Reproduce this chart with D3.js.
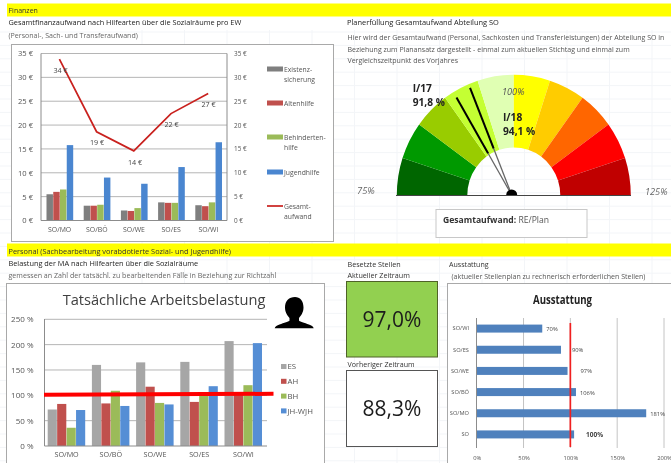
<!DOCTYPE html>
<html><head><meta charset="utf-8">
<script src="https://cdn.jsdelivr.net/npm/d3@7"></script>
<style>
html,body{margin:0;padding:0;background:#fff}
svg{display:block;filter:blur(0.45px)}
text{font-family:"Open Sans","Noto Sans",sans-serif}
</style></head><body>
<svg id="c" width="671" height="463"></svg>
<script>
// --- Data: chart 1 (Gesamtfinanzaufwand)
const raeume = ["SO/MO","SO/BÖ","SO/WE","SO/ES","SO/WI"];
const existenz = [5.5,3.1,2.1,3.8,3.2];
const altenhilfe = [6.0,3.1,2.0,3.7,3.0];
const behinderten = [6.5,3.3,2.6,3.7,3.8];
const jugendhilfe = [15.8,9.0,7.7,11.2,16.4];
const gesamt = [33.8,18.6,14.6,22.4,26.6];
const gesamtLabels = ["34 €","19 €","14 €","22 €","27 €"];
// --- Data: gauge
const gaugeStops = [75,80,85,90,95,100,105,110,115,120,125];
const gaugeNeedles = [91.8,94.1];
// --- Data: chart 3 (Arbeitsbelastung)
const es = [72,160,165,166,207];
const ah = [83,84,117,87,104];
const bh = [36,109,85,100,120];
const jh = [71,79,82,118,203];
const richtzahl = [101,103];
// --- Data: Ausstattung
const ausstattungCats = ["SO/WI","SO/ES","SO/WE","SO/BÖ","SO/MO","SO"];
const ausstattung = [70,90,97,106,181,104];
const ausstattungLabels = ["70%","90%","97%","106%","181%","100%"];
const besetztAktuell = "97,0%";
const besetztVorher = "88,3%";

const svg = d3.select("#c");
const TXT="#3a3a3a", AX="#8c8c8c", GR="#b5b5b5";

function text(g,x,y,s,o={}){
  return g.append("text").attr("x",x).attr("y",y).text(s)
   .attr("font-size",o.size||8).attr("fill",o.fill||TXT)
   .attr("font-weight",o.weight||null).attr("font-style",o.style||null)
   .attr("text-anchor",o.anchor||null).attr("font-family",o.family||null);
}
function band(x,y,w,h){svg.append("rect").attr("x",x).attr("y",y).attr("width",w).attr("height",h).attr("fill","#ffff00");}
function panel(x,y,w,h,st){svg.append("rect").attr("x",x+.5).attr("y",y+.5).attr("width",w).attr("height",h).attr("fill","#fff").attr("stroke",st||"#a9a9a9");}
function clean(g,size){g.select(".domain").remove();g.selectAll("line").remove();g.selectAll("text").attr("fill","#555").attr("font-size",size).attr("font-family",'"Open Sans",sans-serif');}

// Faint sheet gridlines
const sheetH=d3.range(32,463,13.4), sheetV=d3.range(142,671,42.5);
svg.append("g").selectAll("line").data(sheetH).join("line").attr("x1",0).attr("x2",671).attr("y1",d=>d).attr("y2",d=>d).attr("stroke","#f3f5f8");
svg.append("g").selectAll("line").data(sheetV).join("line").attr("x1",d=>d).attr("x2",d=>d).attr("y1",30).attr("y2",463).attr("stroke","#f3f5f8");

band(7,3.5,664,13); band(7,243.5,664,13);
text(svg,8.5,13,"Finanzen",{size:7,fill:"#333"});
text(svg,8.5,254,"Personal (Sachbearbeitung vorabdotierte Sozial- und Jugendhilfe)",{size:7.35,fill:"#333"});
text(svg,8.5,25,"Gesamtfinanzaufwand nach Hilfearten über die Sozialräume pro EW",{size:7.35,fill:"#222"});
text(svg,8.5,37.5,"(Personal-, Sach- und Transferaufwand)",{size:7.05,fill:"#666"});
text(svg,347,25,"Planerfüllung Gesamtaufwand Abteilung SO",{size:7.45,fill:"#222"});
["Hier wird der Gesamtaufwand (Personal, Sachkosten und Transferleistungen) der Abteilung SO in",
 "Beziehung zum Planansatz dargestellt - einmal zum aktuellen Stichtag und einmal zum",
 "Vergleichszeitpunkt des Vorjahres"].forEach((s,i)=>text(svg,347.5,40+i*11.5,s,{size:7.03,fill:"#555"}));
text(svg,8.5,266,"Belastung der MA nach Hilfearten über die Sozialräume",{size:7.35,fill:"#222"});
text(svg,8.5,278,"gemessen an Zahl der tatsächl. zu bearbeitenden Fälle in Beziehung zur Richtzahl",{size:7.1,fill:"#666"});
text(svg,347.5,267,"Besetzte Stellen",{size:7.2,fill:"#333"});
text(svg,347.5,278,"Aktueller Zeitraum",{size:7.2,fill:"#333"});
text(svg,347.5,367,"Vorheriger Zeitraum",{size:7.1,fill:"#333"});
text(svg,449,267,"Ausstattung",{size:7.1,fill:"#333"});
text(svg,451.5,279,"(aktueller Stellenplan zu rechnerisch erforderlichen Stellen)",{size:7.05,fill:"#555"});

// ---------- Chart 1
panel(11,44,322,197);
{
 const x=d3.scaleBand().domain(raeume).range([41,227]);
 const y=d3.scaleLinear().domain([0,35]).range([220.5,53.5]);
 const ticks=[0,5,10,15,20,25,30,35];
 const g=svg.append("g");
 g.selectAll(".gl").data(ticks).join("line").attr("x1",41).attr("x2",227).attr("y1",y).attr("y2",y).attr("stroke",GR).attr("stroke-width",1);
 const series=[[existenz,"#7f7f7f"],[altenhilfe,"#c0504d"],[behinderten,"#9bbb59"],[jugendhilfe,"#4a86d0"]];
 const inner=d3.scaleBand().domain(d3.range(4)).range([5.5,32.5]).paddingInner(0);
 series.forEach(([vals,col],k)=>{
  g.selectAll(null).data(vals).join("rect")
   .attr("x",(d,i)=>x(raeume[i])+inner(k)).attr("width",inner.bandwidth()-.3)
   .attr("y",d=>y(d)).attr("height",d=>y(0)-y(d)).attr("fill",col);
 });
 g.append("line").attr("x1",41).attr("x2",41).attr("y1",53.5).attr("y2",220.5).attr("stroke",AX);
 g.append("line").attr("x1",227).attr("x2",227).attr("y1",53.5).attr("y2",220.5).attr("stroke",AX);
 g.append("line").attr("x1",41).attr("x2",227).attr("y1",220.5).attr("y2",220.5).attr("stroke",AX);
 g.append("g").attr("transform","translate(36,0)").call(d3.axisLeft(y).tickValues(ticks).tickFormat(d=>d+" €").tickSize(0)).call(s=>clean(s,7.6));
 g.append("g").attr("transform","translate(231,0)").call(d3.axisRight(y).tickValues(ticks).tickFormat(d=>d+" €").tickSize(0)).call(s=>{clean(s,6.4);});
 g.append("g").attr("transform","translate(0,224)").call(d3.axisBottom(x).tickSize(0)).call(s=>clean(s,6.9));
 const line=d3.line().x((d,i)=>x(raeume[i])+x.bandwidth()/2-.2).y(d=>y(d));
 g.append("path").attr("d",line(gesamt)).attr("fill","none").attr("stroke","#c9211e").attr("stroke-width",1.7);
 const lblY=[72.5,145,165,127,107];
 const lblX=[60.5,97,135,171.5,208.5];
 g.selectAll(null).data(gesamtLabels).join("text").text(d=>d)
  .attr("x",(d,i)=>lblX[i])
  .attr("y",(d,i)=>lblY[i]).attr("text-anchor","middle").attr("font-size",7.2).attr("fill","#444");
 const lg=[["rect","#7f7f7f",["Existenz-","sicherung"],69],["rect","#c0504d",["Altenhilfe"],103],["rect","#9bbb59",["Behinderten-","hilfe"],137],["rect","#4a86d0",["Jugendhilfe"],172],["line","#c9211e",["Gesamt-","aufwand"],206]];
 lg.forEach(([t,c,ls,yy])=>{
  if(t=="rect") g.append("rect").attr("x",267).attr("y",yy-2.5).attr("width",16).attr("height",5).attr("fill",c);
  else g.append("line").attr("x1",267).attr("x2",283).attr("y1",yy).attr("y2",yy).attr("stroke",c).attr("stroke-width",1.7);
  ls.forEach((l,i)=>text(g,284,yy+2.5+i*10,l,{size:6.8,fill:"#555"}));
 });
}

// ---------- Gauge
{
 const g=svg.append("g").attr("transform","translate(513.8,195.3) scale(1,1.03)");
 const a=d3.scaleLinear().domain([75,125]).range([-Math.PI/2,Math.PI/2]);
 const cols=["#006600","#009900","#99cc00","#c4ff33","#e0ffb3","#ffff00","#ffcc00","#ff6600","#ff0000","#c00000"];
 const arc=d3.arc().innerRadius(46.5).outerRadius(117);
 g.selectAll("path").data(d3.pairs(gaugeStops)).join("path")
  .attr("d",d=>arc({startAngle:a(d[0]),endAngle:a(d[1])})).attr("fill",(d,i)=>cols[i]);
 const hub=svg.append("g").attr("transform","translate(511.7,195)");
 gaugeNeedles.forEach(v=>{
  const t=a(v), sx=Math.sin(t), cy=-Math.cos(t);
  hub.append("line").attr("x1",0).attr("y1",0).attr("x2",sx*60).attr("y2",cy*60).attr("stroke","#666").attr("stroke-width",1.3);
  hub.append("line").attr("x1",sx*(v<93?48:50)).attr("y1",cy*(v<93?48:50)).attr("x2",sx*(v<93?112:115)).attr("y2",cy*(v<93?112:115)).attr("stroke","#000").attr("stroke-width",2);
 });
 svg.append("line").attr("x1",396).attr("x2",631).attr("y1",195.5).attr("y2",195.5).attr("stroke","#444").attr("stroke-width",1.2);
 hub.append("path").attr("d",d3.arc()({innerRadius:0,outerRadius:5.5,startAngle:-Math.PI/2,endAngle:Math.PI/2})).attr("fill","#000");
 text(svg,412.7,92,"I/17",{size:10.2,weight:"bold",fill:"#222"});
 text(svg,412.7,105.5,"91,8 %",{size:10.2,weight:"bold",fill:"#222"});
 text(svg,503,121,"I/18",{size:10.2,weight:"bold",fill:"#222"});
 text(svg,503,134.5,"94,1 %",{size:10.2,weight:"bold",fill:"#222"});
 text(svg,502,94.5,"100%",{size:9.2,style:"italic",fill:"#555"});
 text(svg,357,194,"75%",{size:9.4,style:"italic",fill:"#666"});
 text(svg,645,194.5,"125%",{size:9.2,style:"italic",fill:"#666"});
 svg.append("rect").attr("x",436).attr("y",209.5).attr("width",151).attr("height",28).attr("fill","#fff").attr("stroke","#c8c8c8");
 const t=text(svg,443,222.7,"Gesamtaufwand",{size:8.6,weight:"bold",fill:"#333"});
 t.append("tspan").text(": ").attr("font-weight","bold");
 t.append("tspan").text("RE/Plan").attr("font-weight","normal").attr("fill","#555");
}

// ---------- Chart 3
panel(6,283,318,190);
{
 const x=d3.scaleBand().domain(raeume).range([44.5,265.5]);
 const y=d3.scaleLinear().domain([0,250]).range([446,319.3]);
 const ticks=[0,50,100,150,200,250];
 const g=svg.append("g");
 text(g,164,304.5,"Tatsächliche Arbeitsbelastung",{size:14.6,anchor:"middle",fill:"#404040",family:"Lato"});
 g.selectAll(".gl").data(ticks.slice(1)).join("line").attr("x1",44.5).attr("x2",267).attr("y1",y).attr("y2",y).attr("stroke",GR);
 const inner=d3.scaleBand().domain(d3.range(4)).range([3.2,41]);
 [[es,"#a6a6a6"],[ah,"#c0504d"],[bh,"#9bbb59"],[jh,"#558ed5"]].forEach(([vals,col],k)=>{
  g.selectAll(null).data(vals).join("rect")
   .attr("x",(d,i)=>x(raeume[i])+inner(k)).attr("width",inner.bandwidth()-.3)
   .attr("y",d=>y(d)).attr("height",d=>y(0)-y(d)).attr("fill",col);
 });
 g.append("line").attr("x1",44.5).attr("x2",44.5).attr("y1",319).attr("y2",446).attr("stroke",AX);
 g.append("line").attr("x1",44.5).attr("x2",267).attr("y1",446).attr("y2",446).attr("stroke",AX);
 g.append("g").attr("transform","translate(36.5,0)").call(d3.axisLeft(y).tickValues(ticks).tickFormat(d=>d+" %").tickSize(0)).call(s=>clean(s,8));
 g.append("g").attr("transform","translate(0,449)").call(d3.axisBottom(x).tickSize(0)).call(s=>clean(s,7.2));
 const rx=d3.scaleLinear().domain([0,1]).range([44,273.5]);
 g.append("line").attr("x1",rx(0)).attr("x2",rx(1)).attr("y1",y(richtzahl[0])).attr("y2",y(richtzahl[1])).attr("stroke","#ff0000").attr("stroke-width",4);
 [["ES","#a6a6a6"],["AH","#c0504d"],["BH","#9bbb59"],["JH-WJH","#558ed5"]].forEach(([l,c],i)=>{
  const yy=366+i*14.8;
  g.append("rect").attr("x",281).attr("y",yy-2).attr("width",5.5).attr("height",5).attr("fill",c);
  text(g,287.5,yy+3.2,l,{size:7.8,fill:"#555"});
 });
 // person icon
 g.append("path").attr("fill","#000").attr("d","M295 297c-6 0-10 4-10 10.5 0 5 2.5 8 4.5 10.5v2.6c0 1-6 2.4-10 4-2.5 1-4.3 2-4.8 3.6h39c-.5-1.6-2.3-2.6-4.8-3.6-4-1.6-9.9-3-9.9-4V318c2-2.5 4.5-5.5 4.5-10.5 0-6.5-3.5-10.5-8.5-10.5z");
}

// ---------- KPI boxes
svg.append("rect").attr("x",346.5).attr("y",281.5).attr("width",91).attr("height",75.5).attr("fill","#92d050").attr("stroke","#4f6228").attr("stroke-width",1);
svg.append("rect").attr("x",346.5).attr("y",370.5).attr("width",91).attr("height",76).attr("fill","#fff").attr("stroke","#555");
text(svg,392,327,besetztAktuell,{size:21,anchor:"middle",fill:"#1c1c1c"});
text(svg,392,415.5,besetztVorher,{size:21,anchor:"middle",fill:"#1c1c1c"});

// ---------- Ausstattung
panel(447,283,230,190);
{
 const x=d3.scaleLinear().domain([0,200]).range([476.7,664]);
 const y=d3.scaleBand().domain(ausstattungCats).range([318,445]);
 const g=svg.append("g");
 text(g,533,304,"Ausstattung",{size:12.5,weight:"bold",fill:"#222",family:"Liberation Sans"}).attr("textLength",59).attr("lengthAdjust","spacingAndGlyphs");
 const xt=[0,50,100,150,200];
 g.selectAll(".gl").data(xt.slice(1)).join("line").attr("x1",x).attr("x2",x).attr("y1",318).attr("y2",448).attr("stroke","#c4c4c4");
 g.selectAll(".b").data(ausstattung).join("rect").attr("x",x(0)).attr("y",(d,i)=>y(ausstattungCats[i])+y.bandwidth()/2-4)
  .attr("width",d=>x(d)-x(0)).attr("height",8).attr("fill","#4f81bd");
 g.append("line").attr("x1",476.5).attr("x2",476.5).attr("y1",318).attr("y2",448).attr("stroke",AX);
 g.append("line").attr("x1",x(100)).attr("x2",x(100)).attr("y1",323).attr("y2",447).attr("stroke","#f02020").attr("stroke-width",1.7);
 g.append("g").attr("transform","translate(472,0)").call(d3.axisLeft(y).tickSize(0)).call(s=>{clean(s,5.7);s.selectAll("text").attr("font-family",'"Liberation Sans"');});
 g.append("g").attr("transform","translate(0,453)").call(d3.axisBottom(x).tickValues(xt).tickFormat(d=>d+"%").tickSize(0)).call(s=>{clean(s,5.8);s.selectAll("text").attr("font-family","'Liberation Serif'");});
 const gap=[4,11,13,4,4,12];
 g.selectAll(".l").data(ausstattungLabels).join("text").text(d=>d)
  .attr("x",(d,i)=>x(ausstattung[i])+gap[i]).attr("y",(d,i)=>y(ausstattungCats[i])+y.bandwidth()/2+2.5)
  .attr("font-size",(d,i)=>i==5?6.5:5.8).attr("font-weight",(d,i)=>i==5?"bold":null)
  .attr("font-family","Liberation Serif").attr("fill","#444");
}
</script>
</body></html>
